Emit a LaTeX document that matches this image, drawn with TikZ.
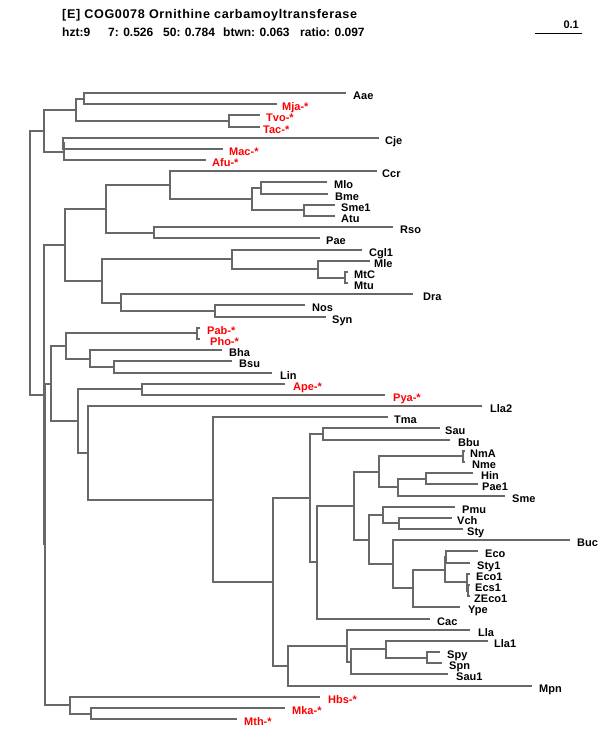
\documentclass[tikz,border=0pt]{standalone}
\usepackage{fontspec}
\setmainfont{Liberation Sans}
\definecolor{treegray}{RGB}{104,104,104}
\definecolor{labred}{RGB}{255,0,0}
\newcommand{\lf}[6]{\coordinate (#1) at ({round(#2)},{round(#3)});\node[#6] (#1-t) at (#4,{round(#3)+6.5}) {#5};}
\newcommand{\nd}[3]{\coordinate (#1) at ({round(#2)},{round(#3)});}
\begin{document}
\begin{tikzpicture}[x=1pt,y=-1pt,
  edge/.style={draw=treegray,line width=2pt},
  lab/.style={anchor=base west,inner sep=0pt,font=\fontsize{11}{13}\selectfont\bfseries},
  rlab/.style={lab,text=labred},
  ttl/.style={anchor=base west,inner sep=0pt,font=\fontsize{12.6}{15}\selectfont\bfseries\addfontfeature{LetterSpace=5}},
  sub/.style={anchor=base west,inner sep=0pt,font=\fontsize{12}{15}\selectfont\bfseries}]
\useasboundingbox (0,0) rectangle (600,750);
% title
\node[ttl] (title) at (62,18.5) {[E] COG0078 Ornithine carbamoyltransferase};
\node[sub] (s1) at (62,36) {hzt:9};
\node[sub] (s2) at (108,36) {7: 0.526};
\node[sub] (s3) at (163,36) {50: 0.784};
\node[sub] (s4) at (223,36) {btwn: 0.063};
\node[sub] (s5) at (300,36) {ratio: 0.097};
% scale bar
\coordinate (sbL) at (535,33.5);
\coordinate (sbR) at (582,33.5);
\draw[line width=1pt] (sbL) -- (sbR);
\node[lab,anchor=base east] (sbt) at (579,28) {0.1};
% leaves: name, end x, y, label x, text, style
\lf{Aae}{346}{93.0}{353}{Aae}{lab}
\lf{Mja}{277}{104.2}{282}{Mja-*}{rlab}
\lf{Tvo}{260}{115.4}{266}{Tvo-*}{rlab}
\lf{Tac}{260}{126.5}{263}{Tac-*}{rlab}
\lf{Cje}{379}{137.7}{385}{Cje}{lab}
\lf{Mac}{223}{148.9}{229}{Mac-*}{rlab}
\lf{Afu}{206}{160.1}{212}{Afu-*}{rlab}
\lf{Ccr}{377}{171.3}{382}{Ccr}{lab}
\lf{Mlo}{327}{182.4}{334}{Mlo}{lab}
\lf{Bme}{328}{193.6}{335}{Bme}{lab}
\lf{Sme1}{335}{204.8}{341}{Sme1}{lab}
\lf{Atu}{335}{216.0}{341}{Atu}{lab}
\lf{Rso}{393}{227.2}{400}{Rso}{lab}
\lf{Pae}{320}{238.3}{326}{Pae}{lab}
\lf{Cgl1}{362}{249.5}{369}{Cgl1}{lab}
\lf{Mle}{370}{260.7}{374}{Mle}{lab}
\lf{MtC}{348}{271.9}{354}{MtC}{lab}
\lf{Mtu}{348}{283.1}{354}{Mtu}{lab}
\lf{Dra}{413}{294.2}{423}{Dra}{lab}
\lf{Nos}{305}{305.4}{312}{Nos}{lab}
\lf{Syn}{326}{316.6}{332}{Syn}{lab}
\lf{Pab}{200}{327.8}{207}{Pab-*}{rlab}
\lf{Pho}{200}{339.0}{210}{Pho-*}{rlab}
\lf{Bha}{222}{350.1}{229}{Bha}{lab}
\lf{Bsu}{232}{361.3}{239}{Bsu}{lab}
\lf{Lin}{272}{372.5}{280}{Lin}{lab}
\lf{Ape}{285}{383.7}{293}{Ape-*}{rlab}
\lf{Pya}{385}{394.9}{393}{Pya-*}{rlab}
\lf{Lla2}{482}{406.0}{490}{Lla2}{lab}
\lf{Tma}{388}{417.2}{394}{Tma}{lab}
\lf{Sau}{440}{428.4}{445}{Sau}{lab}
\lf{Bbu}{450}{439.6}{458}{Bbu}{lab}
\lf{NmA}{465}{450.8}{470}{NmA}{lab}
\lf{Nme}{465}{461.9}{472}{Nme}{lab}
\lf{Hin}{473}{473.1}{481}{Hin}{lab}
\lf{Pae1}{478}{484.3}{482}{Pae1}{lab}
\lf{Sme}{505}{495.5}{512}{Sme}{lab}
\lf{Pmu}{455}{506.7}{462}{Pmu}{lab}
\lf{Vch}{452}{517.8}{457}{Vch}{lab}
\lf{Sty}{463}{529.0}{467}{Sty}{lab}
\lf{Buc}{570}{540.2}{577}{Buc}{lab}
\lf{Eco}{478}{551.4}{485}{Eco}{lab}
\lf{Sty1}{470}{562.6}{477}{Sty1}{lab}
\lf{Eco1}{470}{573.7}{476}{Eco1}{lab}
\lf{Ecs1}{470}{584.9}{475}{Ecs1}{lab}
\lf{ZEco1}{470}{596.1}{474}{ZEco1}{lab}
\lf{Ype}{460}{607.3}{468}{Ype}{lab}
\lf{Cac}{430}{618.5}{437}{Cac}{lab}
\lf{Lla}{470}{629.6}{478}{Lla}{lab}
\lf{Lla1}{488}{640.8}{494}{Lla1}{lab}
\lf{Spy}{440}{652.0}{447}{Spy}{lab}
\lf{Spn}{442}{663.2}{449}{Spn}{lab}
\lf{Sau1}{448}{674.4}{456}{Sau1}{lab}
\lf{Mpn}{532}{685.5}{539}{Mpn}{lab}
\lf{Hbs}{320}{696.7}{328}{Hbs-*}{rlab}
\lf{Mka}{285}{707.9}{292}{Mka-*}{rlab}
\lf{Mth}{237}{719.1}{244}{Mth-*}{rlab}
% internal nodes
\nd{root}{30}{262.7}
\nd{nA}{44}{130.75}
\nd{nA1}{76}{109.8}
\nd{nAM}{84}{98.6}
\nd{nTT}{229}{120.95}
\nd{nA2}{64}{151.7}
\nd{nCM}{63}{143.3}
\nd{N1}{44}{394.65}
\nd{n65}{65}{245}
\nd{n106}{106}{209}
\nd{n170}{170}{185.25}
\nd{n252}{252}{199.2}
\nd{nMB}{261}{188}
\nd{nSA}{304}{210.4}
\nd{nRP}{154}{232.75}
\nd{n102}{102}{280.95}
\nd{n232}{232}{259.3}
\nd{n318}{318}{269.1}
\nd{nMM}{345}{277.5}
\nd{n121}{121}{302.6}
\nd{nNS}{215}{311}
\nd{N2}{45}{544.3}
\nd{n51}{51}{383.5}
\nd{n66}{66}{345.95}
\nd{nPP}{197}{333.4}
\nd{n90}{90}{358.5}
\nd{nBL}{114}{366.9}
\nd{n78}{78}{421}
\nd{nAP}{142}{389.3}
\nd{n88}{88}{452.75}
\nd{n213}{213}{499.5}
\nd{n273}{273}{581.8}
\nd{n310}{310}{498.05}
\nd{nSB}{323}{434}
\nd{n317}{317}{562.1}
\nd{n354}{354}{505.7}
\nd{n379}{379}{471.7}
\nd{nNN}{463}{456.35}
\nd{n398}{398}{487.1}
\nd{nHP}{426}{478.7}
\nd{n369}{369}{539.7}
\nd{n383}{383}{515.05}
\nd{nVS}{399}{523.4}
\nd{n393}{393}{564.3}
\nd{n413}{413}{588.4}
\nd{n445}{445}{569.55}
\nd{nES}{446}{557}
\nd{n467}{467}{582.1}
\nd{nEZ}{468}{590.5}
\nd{n288}{288}{665.6}
\nd{n347}{347}{645.7}
\nd{n351}{351}{661.8}
\nd{n386}{386}{649.2}
\nd{nSS}{427}{657.6}
\nd{n70}{70}{705.1}
\nd{nMK}{91}{713.5}
% edges
\foreach \p/\c in {root/nA,root/N1,
  nA/nA1,nA/nA2,nA1/nAM,nA1/nTT,nAM/Aae,nAM/Mja,nTT/Tvo,nTT/Tac,
  nA2/nCM,nA2/Afu,nCM/Cje,nCM/Mac,
  N1/n65,N1/N2,n65/n106,n65/n102,n106/n170,n106/nRP,n170/Ccr,n170/n252,
  n252/nMB,n252/nSA,nMB/Mlo,nMB/Bme,nSA/Sme1,nSA/Atu,nRP/Rso,nRP/Pae,
  n102/n232,n102/n121,n232/Cgl1,n232/n318,n318/Mle,n318/nMM,nMM/MtC,nMM/Mtu,
  n121/Dra,n121/nNS,nNS/Nos,nNS/Syn,
  N2/n51,N2/n70,n51/n66,n51/n78,n66/nPP,n66/n90,nPP/Pab,nPP/Pho,
  n90/Bha,n90/nBL,nBL/Bsu,nBL/Lin,n78/nAP,n78/n88,nAP/Ape,nAP/Pya,
  n88/Lla2,n88/n213,n213/Tma,n213/n273,n273/n310,n273/n288,
  n310/nSB,n310/n317,nSB/Sau,nSB/Bbu,n317/n354,n317/Cac,
  n354/n379,n354/n369,n379/nNN,n379/n398,nNN/NmA,nNN/Nme,
  n398/nHP,n398/Sme,nHP/Hin,nHP/Pae1,n369/n383,n369/n393,
  n383/Pmu,n383/nVS,nVS/Vch,nVS/Sty,n393/Buc,n393/n413,
  n413/n445,n413/Ype,n445/nES,n445/n467,nES/Eco,nES/Sty1,
  n467/Eco1,n467/nEZ,nEZ/Ecs1,nEZ/ZEco1,
  n288/n347,n288/Mpn,n347/Lla,n347/n351,n351/n386,n351/Sau1,
  n386/Lla1,n386/nSS,nSS/Spy,nSS/Spn,
  n70/Hbs,n70/nMK,nMK/Mka,nMK/Mth}
  \draw[edge] (\p) |- (\c);
\end{tikzpicture}
\end{document}
